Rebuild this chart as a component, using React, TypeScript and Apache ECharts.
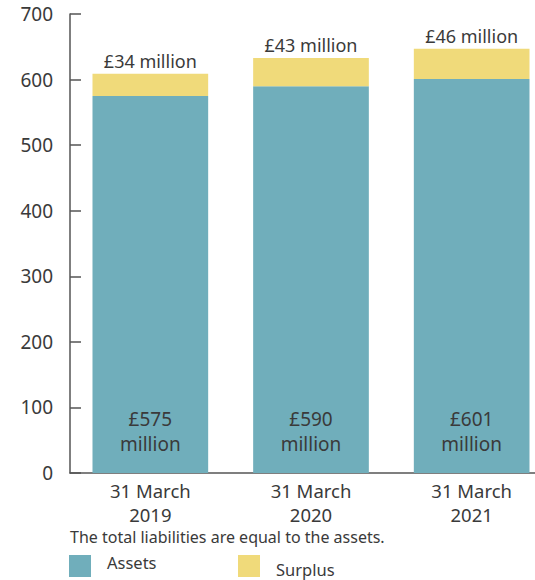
import React, { useEffect, useRef } from "react";
import * as echarts from "echarts";

const categories = ["31 March\n2019", "31 March\n2020", "31 March\n2021"];
const assets = [575, 590, 601];
const surplus = [34, 43, 46];
const yTicks = { min: 0, max: 700, interval: 100 };

const FONT = "'Noto Sans', 'Open Sans', sans-serif";
const TXT = "#3a3a3a";
const BLUE = "#70AEBB";
const YELLOW = "#F0DA7A";

export default function App() {
  const ref = useRef<HTMLDivElement>(null);
  useEffect(() => {
    const chart = echarts.init(ref.current!, null, { renderer: "svg" });
    chart.setOption({
      animation: false,
      textStyle: { fontFamily: FONT },
      grid: { left: 70, top: 14, width: 482, height: 459, containLabel: false, outerBoundsMode: "none" },
      xAxis: {
        type: "category",
        data: categories,
        axisLine: { show: true, lineStyle: { color: "#555", width: 1.5 } },
        axisTick: { show: false },
        axisLabel: { color: TXT, fontSize: 18.5, fontFamily: FONT, lineHeight: 24, margin: 5 },
      },
      yAxis: {
        type: "value",
        min: yTicks.min,
        max: yTicks.max,
        interval: yTicks.interval,
        splitLine: { show: false },
        axisLine: { show: true, lineStyle: { color: "#555", width: 1.5 } },
        axisTick: { show: true, inside: true, length: 11, lineStyle: { color: "#555", width: 1.5 } },
        axisLabel: { color: TXT, fontSize: 19, fontFamily: FONT, margin: 17 },
      },
      series: [
        {
          name: "Assets",
          type: "bar",
          stack: "total",
          barWidth: "72%",
          data: assets,
          itemStyle: { color: BLUE },
          label: {
            show: true,
            position: "insideBottom",
            distance: 17,
            color: TXT,
            fontSize: 19,
            lineHeight: 25,
            fontFamily: FONT,
            formatter: (p: any) => `£${p.value}\nmillion`,
          },
        },
        {
          name: "Surplus",
          type: "bar",
          stack: "total",
          barWidth: "72%",
          data: surplus,
          itemStyle: { color: YELLOW },
          label: {
            show: true,
            position: "top",
            distance: 4,
            color: TXT,
            fontSize: 18,
            fontFamily: FONT,
            formatter: (p: any) => `£${p.value} million`,
          },
        },
      ],
      graphic: [
        {
          type: "text",
          left: 70,
          top: 529,
          style: { text: "The total liabilities are equal to the assets.", fill: TXT, fontSize: 16, fontFamily: FONT },
        },
        { type: "rect", shape: { x: 69, y: 555, width: 22, height: 22 }, style: { fill: BLUE } },
        {
          type: "text",
          left: 107,
          top: 554,
          style: { text: "Assets", fill: TXT, fontSize: 16.5, fontFamily: FONT },
        },
        { type: "rect", shape: { x: 238, y: 555, width: 22, height: 22 }, style: { fill: YELLOW } },
        {
          type: "text",
          left: 276,
          top: 561,
          style: { text: "Surplus", fill: TXT, fontSize: 16.5, fontFamily: FONT },
        },
      ],
    });
    return () => chart.dispose();
  }, []);
  return (
    <div
      ref={ref}
      style={{ position: "fixed", left: 0, top: 0, width: 535, height: 580, background: "#fff" }}
    />
  );
}
